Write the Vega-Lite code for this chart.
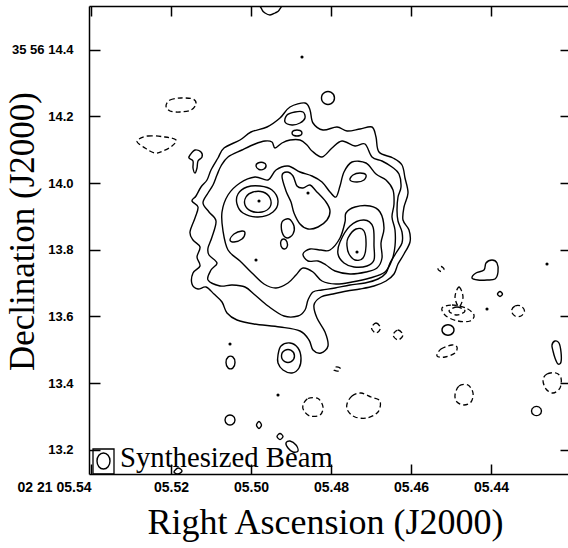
{
"$schema":"https://vega.github.io/schema/vega-lite/v6.json",
"width":479,"height":468,
"autosize":{"type":"none"},
"padding":{"left":89,"top":6,"right":0,"bottom":74},
"background":"white",
"config":{"view":{"stroke":null},"axis":{"grid":false}},
"datasets":{
"solid":[
{"c":1,"ra":5.49275,"dec":14.195},{"c":1,"ra":5.49025,"dec":14.228},{"c":1,"ra":5.4865,"dec":14.24},{"c":1,"ra":5.48525,"dec":14.219},{"c":1,"ra":5.4845,"dec":14.18},{"c":1,"ra":5.482,"dec":14.159},{"c":1,"ra":5.4785,"dec":14.168},{"c":1,"ra":5.476,"dec":14.156},{"c":1,"ra":5.47275,"dec":14.162},{"c":1,"ra":5.46975,"dec":14.168},{"c":1,"ra":5.46875,"dec":14.138},{"c":1,"ra":5.468,"dec":14.093},{"c":1,"ra":5.4645,"dec":14.075},{"c":1,"ra":5.46225,"dec":14.054},{"c":1,"ra":5.4615,"dec":14.015},{"c":1,"ra":5.46075,"dec":13.97},{"c":1,"ra":5.46175,"dec":13.928},{"c":1,"ra":5.462,"dec":13.889},{"c":1,"ra":5.4605,"dec":13.859},{"c":1,"ra":5.46025,"dec":13.823},{"c":1,"ra":5.46175,"dec":13.787},{"c":1,"ra":5.46325,"dec":13.757},{"c":1,"ra":5.46425,"dec":13.727},{"c":1,"ra":5.46625,"dec":13.706},{"c":1,"ra":5.46925,"dec":13.691},{"c":1,"ra":5.47275,"dec":13.682},{"c":1,"ra":5.476,"dec":13.676},{"c":1,"ra":5.4795,"dec":13.667},{"c":1,"ra":5.4825,"dec":13.658},{"c":1,"ra":5.48425,"dec":13.634},{"c":1,"ra":5.4835,"dec":13.595},{"c":1,"ra":5.4815,"dec":13.553},{"c":1,"ra":5.48075,"dec":13.511},{"c":1,"ra":5.4825,"dec":13.49},{"c":1,"ra":5.4845,"dec":13.499},{"c":1,"ra":5.4855,"dec":13.529},{"c":1,"ra":5.48775,"dec":13.556},{"c":1,"ra":5.49275,"dec":13.568},{"c":1,"ra":5.49925,"dec":13.577},{"c":1,"ra":5.5035,"dec":13.589},{"c":1,"ra":5.506,"dec":13.61},{"c":1,"ra":5.50725,"dec":13.643},{"c":1,"ra":5.50925,"dec":13.667},{"c":1,"ra":5.51125,"dec":13.688},{"c":1,"ra":5.51325,"dec":13.682},{"c":1,"ra":5.51475,"dec":13.697},{"c":1,"ra":5.5145,"dec":13.73},{"c":1,"ra":5.51275,"dec":13.751},{"c":1,"ra":5.5135,"dec":13.778},{"c":1,"ra":5.51275,"dec":13.808},{"c":1,"ra":5.5145,"dec":13.829},{"c":1,"ra":5.51525,"dec":13.853},{"c":1,"ra":5.514,"dec":13.895},{"c":1,"ra":5.51325,"dec":13.928},{"c":1,"ra":5.51475,"dec":13.946},{"c":1,"ra":5.51375,"dec":13.961},{"c":1,"ra":5.5125,"dec":13.988},{"c":1,"ra":5.511,"dec":14.009},{"c":1,"ra":5.51,"dec":14.039},{"c":1,"ra":5.50825,"dec":14.075},{"c":1,"ra":5.50675,"dec":14.105},{"c":1,"ra":5.50275,"dec":14.129},{"c":1,"ra":5.5,"dec":14.153},{"c":1,"ra":5.496,"dec":14.168},
{"c":2,"ra":5.50575,"dec":14.078},{"c":2,"ra":5.50225,"dec":14.099},{"c":2,"ra":5.499,"dec":14.117},{"c":2,"ra":5.4965,"dec":14.126},{"c":2,"ra":5.49475,"dec":14.123},{"c":2,"ra":5.494,"dec":14.105},{"c":2,"ra":5.49225,"dec":14.12},{"c":2,"ra":5.49025,"dec":14.129},{"c":2,"ra":5.48775,"dec":14.129},{"c":2,"ra":5.486,"dec":14.114},{"c":2,"ra":5.48475,"dec":14.096},{"c":2,"ra":5.48225,"dec":14.078},{"c":2,"ra":5.47975,"dec":14.105},{"c":2,"ra":5.47725,"dec":14.126},{"c":2,"ra":5.474,"dec":14.111},{"c":2,"ra":5.4715,"dec":14.117},{"c":2,"ra":5.46975,"dec":14.078},{"c":2,"ra":5.46725,"dec":14.066},{"c":2,"ra":5.46475,"dec":14.048},{"c":2,"ra":5.463,"dec":14.027},{"c":2,"ra":5.4625,"dec":13.988},{"c":2,"ra":5.46325,"dec":13.958},{"c":2,"ra":5.4635,"dec":13.919},{"c":2,"ra":5.46325,"dec":13.886},{"c":2,"ra":5.46225,"dec":13.853},{"c":2,"ra":5.46225,"dec":13.82},{"c":2,"ra":5.46375,"dec":13.79},{"c":2,"ra":5.46525,"dec":13.76},{"c":2,"ra":5.46625,"dec":13.73},{"c":2,"ra":5.46825,"dec":13.712},{"c":2,"ra":5.4715,"dec":13.7},{"c":2,"ra":5.47525,"dec":13.694},{"c":2,"ra":5.479,"dec":13.685},{"c":2,"ra":5.48225,"dec":13.679},{"c":2,"ra":5.4845,"dec":13.673},{"c":2,"ra":5.48575,"dec":13.649},{"c":2,"ra":5.4865,"dec":13.619},{"c":2,"ra":5.48825,"dec":13.601},{"c":2,"ra":5.49175,"dec":13.601},{"c":2,"ra":5.49575,"dec":13.631},{"c":2,"ra":5.499,"dec":13.664},{"c":2,"ra":5.5015,"dec":13.688},{"c":2,"ra":5.50475,"dec":13.694},{"c":2,"ra":5.50775,"dec":13.691},{"c":2,"ra":5.51075,"dec":13.709},{"c":2,"ra":5.51,"dec":13.739},{"c":2,"ra":5.5085,"dec":13.76},{"c":2,"ra":5.5105,"dec":13.784},{"c":2,"ra":5.51075,"dec":13.805},{"c":2,"ra":5.50975,"dec":13.838},{"c":2,"ra":5.50875,"dec":13.886},{"c":2,"ra":5.5105,"dec":13.913},{"c":2,"ra":5.512,"dec":13.94},{"c":2,"ra":5.51075,"dec":13.97},{"c":2,"ra":5.5095,"dec":13.994},{"c":2,"ra":5.5085,"dec":14.024},{"c":2,"ra":5.5075,"dec":14.051},
{"c":3,"ra":5.50725,"dec":13.913},{"c":3,"ra":5.50575,"dec":13.964},{"c":3,"ra":5.50275,"dec":14.0},{"c":3,"ra":5.499,"dec":14.018},{"c":3,"ra":5.49575,"dec":14.009},{"c":3,"ra":5.49375,"dec":14.039},{"c":3,"ra":5.49075,"dec":14.051},{"c":3,"ra":5.48775,"dec":14.033},{"c":3,"ra":5.48475,"dec":14.021},{"c":3,"ra":5.48225,"dec":14.003},{"c":3,"ra":5.48025,"dec":13.973},{"c":3,"ra":5.47875,"dec":13.958},{"c":3,"ra":5.47775,"dec":13.991},{"c":3,"ra":5.47675,"dec":14.033},{"c":3,"ra":5.47475,"dec":14.063},{"c":3,"ra":5.47125,"dec":14.06},{"c":3,"ra":5.46875,"dec":14.027},{"c":3,"ra":5.46625,"dec":14.009},{"c":3,"ra":5.4645,"dec":13.979},{"c":3,"ra":5.46425,"dec":13.937},{"c":3,"ra":5.46475,"dec":13.898},{"c":3,"ra":5.464,"dec":13.859},{"c":3,"ra":5.464,"dec":13.811},{"c":3,"ra":5.46475,"dec":13.769},{"c":3,"ra":5.4665,"dec":13.733},{"c":3,"ra":5.47025,"dec":13.715},{"c":3,"ra":5.47475,"dec":13.703},{"c":3,"ra":5.47875,"dec":13.697},{"c":3,"ra":5.48225,"dec":13.706},{"c":3,"ra":5.4845,"dec":13.733},{"c":3,"ra":5.487,"dec":13.745},{"c":3,"ra":5.48875,"dec":13.724},{"c":3,"ra":5.49075,"dec":13.7},{"c":3,"ra":5.49375,"dec":13.685},{"c":3,"ra":5.49675,"dec":13.697},{"c":3,"ra":5.49975,"dec":13.73},{"c":3,"ra":5.50275,"dec":13.766},{"c":3,"ra":5.50575,"dec":13.799},{"c":3,"ra":5.507,"dec":13.856},
{"c":4,"ra":5.50325,"dec":13.967},{"c":4,"ra":5.501,"dec":13.988},{"c":4,"ra":5.49775,"dec":13.991},{"c":4,"ra":5.49475,"dec":13.979},{"c":4,"ra":5.49325,"dec":13.946},{"c":4,"ra":5.4945,"dec":13.913},{"c":4,"ra":5.49825,"dec":13.898},{"c":4,"ra":5.502,"dec":13.91},{"c":4,"ra":5.5035,"dec":13.937},
{"c":5,"ra":5.50125,"dec":13.958},{"c":5,"ra":5.4995,"dec":13.973},{"c":5,"ra":5.497,"dec":13.973},{"c":5,"ra":5.49525,"dec":13.955},{"c":5,"ra":5.49525,"dec":13.928},{"c":5,"ra":5.49725,"dec":13.913},{"c":5,"ra":5.5,"dec":13.916},{"c":5,"ra":5.5015,"dec":13.934},
{"c":6,"ra":5.49225,"dec":14.021},{"c":6,"ra":5.491,"dec":14.033},{"c":6,"ra":5.4895,"dec":14.021},{"c":6,"ra":5.4885,"dec":13.991},{"c":6,"ra":5.487,"dec":13.985},{"c":6,"ra":5.48525,"dec":13.994},{"c":6,"ra":5.48375,"dec":13.976},{"c":6,"ra":5.48125,"dec":13.943},{"c":6,"ra":5.48025,"dec":13.916},{"c":6,"ra":5.481,"dec":13.889},{"c":6,"ra":5.48325,"dec":13.868},{"c":6,"ra":5.48575,"dec":13.862},{"c":6,"ra":5.48775,"dec":13.877},{"c":6,"ra":5.48925,"dec":13.91},{"c":6,"ra":5.49,"dec":13.943},{"c":6,"ra":5.49125,"dec":13.976},
{"c":7,"ra":5.49225,"dec":13.883},{"c":7,"ra":5.4905,"dec":13.892},{"c":7,"ra":5.48925,"dec":13.871},{"c":7,"ra":5.4895,"dec":13.847},{"c":7,"ra":5.491,"dec":13.835},{"c":7,"ra":5.49225,"dec":13.853},
{"c":8,"ra":5.49175,"dec":13.832},{"c":8,"ra":5.491,"dec":13.823},{"c":8,"ra":5.491,"dec":13.808},{"c":8,"ra":5.49175,"dec":13.802},{"c":8,"ra":5.4925,"dec":13.811},{"c":8,"ra":5.4925,"dec":13.826},
{"c":9,"ra":5.49875,"dec":14.051},{"c":9,"ra":5.49825,"dec":14.06},{"c":9,"ra":5.497,"dec":14.0615},{"c":9,"ra":5.49625,"dec":14.054},{"c":9,"ra":5.49675,"dec":14.042},{"c":9,"ra":5.498,"dec":14.0405},
{"c":10,"ra":5.50525,"dec":13.829},{"c":10,"ra":5.50425,"dec":13.847},{"c":10,"ra":5.50225,"dec":13.856},{"c":10,"ra":5.5015,"dec":13.85},{"c":10,"ra":5.50225,"dec":13.832},{"c":10,"ra":5.50425,"dec":13.823},
{"c":11,"ra":5.4915,"dec":14.183},{"c":11,"ra":5.491,"dec":14.204},{"c":11,"ra":5.489,"dec":14.213},{"c":11,"ra":5.487,"dec":14.213},{"c":11,"ra":5.4865,"dec":14.195},{"c":11,"ra":5.48775,"dec":14.18},{"c":11,"ra":5.48975,"dec":14.174},
{"c":12,"ra":5.48975,"dec":14.15},{"c":12,"ra":5.48925,"dec":14.1575},{"c":12,"ra":5.48775,"dec":14.1575},{"c":12,"ra":5.48725,"dec":14.15},{"c":12,"ra":5.48775,"dec":14.1425},{"c":12,"ra":5.48925,"dec":14.1425},
{"c":13,"ra":5.48238,"dec":14.255},{"c":13,"ra":5.48156,"dec":14.2718},{"c":13,"ra":5.47994,"dec":14.2718},{"c":13,"ra":5.47913,"dec":14.255},{"c":13,"ra":5.47994,"dec":14.2382},{"c":13,"ra":5.48156,"dec":14.2382},
{"c":14,"ra":5.47525,"dec":14.009},{"c":14,"ra":5.4745,"dec":14.024},{"c":14,"ra":5.47275,"dec":14.03},{"c":14,"ra":5.47125,"dec":14.024},{"c":14,"ra":5.47175,"dec":14.009},{"c":14,"ra":5.4735,"dec":14.003},
{"c":15,"ra":5.48025,"dec":13.799},{"c":15,"ra":5.47775,"dec":13.835},{"c":15,"ra":5.4765,"dec":13.883},{"c":15,"ra":5.47625,"dec":13.91},{"c":15,"ra":5.474,"dec":13.928},{"c":15,"ra":5.47025,"dec":13.931},{"c":15,"ra":5.46775,"dec":13.913},{"c":15,"ra":5.46675,"dec":13.865},{"c":15,"ra":5.4675,"dec":13.82},{"c":15,"ra":5.46725,"dec":13.775},{"c":15,"ra":5.4685,"dec":13.745},{"c":15,"ra":5.47125,"dec":13.733},{"c":15,"ra":5.47525,"dec":13.727},{"c":15,"ra":5.479,"dec":13.736},{"c":15,"ra":5.48125,"dec":13.754},{"c":15,"ra":5.48325,"dec":13.766},{"c":15,"ra":5.48575,"dec":13.766},{"c":15,"ra":5.487,"dec":13.787},{"c":15,"ra":5.48525,"dec":13.802},{"c":15,"ra":5.4825,"dec":13.799},
{"c":16,"ra":5.47775,"dec":13.823},{"c":16,"ra":5.47525,"dec":13.871},{"c":16,"ra":5.47175,"dec":13.889},{"c":16,"ra":5.4695,"dec":13.868},{"c":16,"ra":5.46925,"dec":13.811},{"c":16,"ra":5.46925,"dec":13.769},{"c":16,"ra":5.471,"dec":13.751},{"c":16,"ra":5.47425,"dec":13.748},{"c":16,"ra":5.47675,"dec":13.76},{"c":16,"ra":5.47825,"dec":13.787},
{"c":17,"ra":5.47575,"dec":13.835},{"c":17,"ra":5.47375,"dec":13.862},{"c":17,"ra":5.47175,"dec":13.856},{"c":17,"ra":5.47125,"dec":13.811},{"c":17,"ra":5.472,"dec":13.775},{"c":17,"ra":5.474,"dec":13.769},{"c":17,"ra":5.4755,"dec":13.787},{"c":17,"ra":5.476,"dec":13.811},
{"c":18,"ra":5.51525,"dec":14.084},{"c":18,"ra":5.514,"dec":14.099},{"c":18,"ra":5.5125,"dec":14.093},{"c":18,"ra":5.51225,"dec":14.078},{"c":18,"ra":5.51325,"dec":14.066},{"c":18,"ra":5.5135,"dec":14.045},{"c":18,"ra":5.514,"dec":14.03},{"c":18,"ra":5.5145,"dec":14.045},{"c":18,"ra":5.5145,"dec":14.066},{"c":18,"ra":5.5155,"dec":14.075},
{"c":22,"ra":5.49325,"dec":13.484},{"c":22,"ra":5.4925,"dec":13.511},{"c":22,"ra":5.49025,"dec":13.52},{"c":22,"ra":5.48825,"dec":13.505},{"c":22,"ra":5.4875,"dec":13.475},{"c":22,"ra":5.488,"dec":13.445},{"c":22,"ra":5.48975,"dec":13.43},{"c":22,"ra":5.492,"dec":13.439},{"c":22,"ra":5.49325,"dec":13.46},
{"c":23,"ra":5.49238,"dec":13.481},{"c":23,"ra":5.49156,"dec":13.4978},{"c":23,"ra":5.48994,"dec":13.4978},{"c":23,"ra":5.48913,"dec":13.481},{"c":23,"ra":5.48994,"dec":13.4642},{"c":23,"ra":5.49156,"dec":13.4642},
{"c":24,"ra":5.50625,"dec":13.4615},{"c":24,"ra":5.50569,"dec":13.4783},{"c":24,"ra":5.50456,"dec":13.4783},{"c":24,"ra":5.504,"dec":13.4615},{"c":24,"ra":5.50456,"dec":13.4447},{"c":24,"ra":5.50569,"dec":13.4447},
{"c":25,"ra":5.5065,"dec":13.289},{"c":25,"ra":5.50588,"dec":13.3019},{"c":25,"ra":5.50463,"dec":13.3019},{"c":25,"ra":5.504,"dec":13.289},{"c":25,"ra":5.50463,"dec":13.2761},{"c":25,"ra":5.50588,"dec":13.2761},
{"c":26,"ra":5.49863,"dec":13.274},{"c":26,"ra":5.498,"dec":13.2845},{"c":26,"ra":5.49738,"dec":13.274},{"c":26,"ra":5.498,"dec":13.2635},
{"c":27,"ra":5.4935,"dec":13.2395},{"c":27,"ra":5.49275,"dec":13.2485},{"c":27,"ra":5.492,"dec":13.2395},{"c":27,"ra":5.49275,"dec":13.2305},
{"c":28,"ra":5.49125,"dec":13.22},{"c":28,"ra":5.49025,"dec":13.226},{"c":28,"ra":5.48875,"dec":13.214},{"c":28,"ra":5.48825,"dec":13.196},{"c":28,"ra":5.4895,"dec":13.193},{"c":28,"ra":5.49075,"dec":13.205},
{"c":35,"ra":5.44475,"dec":13.715},{"c":35,"ra":5.44375,"dec":13.73},{"c":35,"ra":5.44175,"dec":13.739},{"c":35,"ra":5.44125,"dec":13.76},{"c":35,"ra":5.43975,"dec":13.769},{"c":35,"ra":5.4385,"dec":13.76},{"c":35,"ra":5.43825,"dec":13.733},{"c":35,"ra":5.439,"dec":13.712},{"c":35,"ra":5.441,"dec":13.709},{"c":35,"ra":5.44325,"dec":13.709},
{"c":36,"ra":5.43838,"dec":13.667},{"c":36,"ra":5.43775,"dec":13.6745},{"c":36,"ra":5.43713,"dec":13.667},{"c":36,"ra":5.43775,"dec":13.6595},
{"c":40,"ra":5.45225,"dec":13.559},{"c":40,"ra":5.4515,"dec":13.5725},{"c":40,"ra":5.45,"dec":13.5725},{"c":40,"ra":5.44925,"dec":13.559},{"c":40,"ra":5.45,"dec":13.5455},{"c":40,"ra":5.4515,"dec":13.5455},
{"c":43,"ra":5.42475,"dec":13.514},{"c":43,"ra":5.424,"dec":13.526},{"c":43,"ra":5.423,"dec":13.52},{"c":43,"ra":5.4225,"dec":13.493},{"c":43,"ra":5.4225,"dec":13.463},{"c":43,"ra":5.42325,"dec":13.457},{"c":43,"ra":5.424,"dec":13.475},{"c":43,"ra":5.4245,"dec":13.496},
{"c":46,"ra":5.42988,"dec":13.316},{"c":46,"ra":5.42925,"dec":13.328},{"c":46,"ra":5.428,"dec":13.328},{"c":46,"ra":5.42738,"dec":13.316},{"c":46,"ra":5.428,"dec":13.304},{"c":46,"ra":5.42925,"dec":13.304},
{"c":47,"ra":5.4975,"dec":14.54},{"c":47,"ra":5.49725,"dec":14.52},{"c":47,"ra":5.4965,"dec":14.51},{"c":47,"ra":5.49525,"dec":14.504},{"c":47,"ra":5.494,"dec":14.51},{"c":47,"ra":5.493,"dec":14.518},{"c":47,"ra":5.4925,"dec":14.54},
{"c":48,"ra":5.51925,"dec":13.133},{"c":48,"ra":5.51825,"dec":13.145},{"c":48,"ra":5.51725,"dec":13.136},{"c":48,"ra":5.51825,"dec":13.127},
{"c":49,"ra":5.53525,"dec":13.166},{"c":49,"ra":5.53573,"dec":13.1831},{"c":49,"ra":5.53688,"dec":13.19},{"c":49,"ra":5.53803,"dec":13.1831},{"c":49,"ra":5.5385,"dec":13.166},{"c":49,"ra":5.53803,"dec":13.1489},{"c":49,"ra":5.53688,"dec":13.142},{"c":49,"ra":5.53573,"dec":13.1489}
],
"dashed":[
{"c":19,"ra":5.52125,"dec":14.231},{"c":19,"ra":5.52025,"dec":14.249},{"c":19,"ra":5.5175,"dec":14.255},{"c":19,"ra":5.5145,"dec":14.252},{"c":19,"ra":5.51375,"dec":14.237},{"c":19,"ra":5.515,"dec":14.219},{"c":19,"ra":5.51775,"dec":14.213},{"c":19,"ra":5.52025,"dec":14.216},
{"c":20,"ra":5.5285,"dec":14.126},{"c":20,"ra":5.52575,"dec":14.141},{"c":20,"ra":5.5215,"dec":14.138},{"c":20,"ra":5.51875,"dec":14.129},{"c":20,"ra":5.51975,"dec":14.111},{"c":20,"ra":5.522,"dec":14.096},{"c":20,"ra":5.524,"dec":14.09},{"c":20,"ra":5.5265,"dec":14.105},
{"c":29,"ra":5.487,"dec":13.334},{"c":29,"ra":5.48575,"dec":13.3535},{"c":29,"ra":5.48325,"dec":13.3535},{"c":29,"ra":5.482,"dec":13.328},{"c":29,"ra":5.48275,"dec":13.304},{"c":29,"ra":5.48525,"dec":13.301},{"c":29,"ra":5.48675,"dec":13.316},
{"c":30,"ra":5.476,"dec":13.337},{"c":30,"ra":5.47475,"dec":13.361},{"c":30,"ra":5.4725,"dec":13.37},{"c":30,"ra":5.47,"dec":13.358},{"c":30,"ra":5.46775,"dec":13.346},{"c":30,"ra":5.46825,"dec":13.313},{"c":30,"ra":5.471,"dec":13.295},{"c":30,"ra":5.474,"dec":13.298},{"c":30,"ra":5.47575,"dec":13.316},
{"c":31,"ra":5.47925,"dec":13.439},{"c":31,"ra":5.47875,"dec":13.448},{"c":31,"ra":5.47775,"dec":13.445},{"c":31,"ra":5.478,"dec":13.436},
{"c":32,"ra":5.46988,"dec":13.565},{"c":32,"ra":5.46875,"dec":13.58},{"c":32,"ra":5.46763,"dec":13.565},{"c":32,"ra":5.46875,"dec":13.55},
{"c":33,"ra":5.4645,"dec":13.544},{"c":33,"ra":5.46325,"dec":13.559},{"c":33,"ra":5.462,"dec":13.544},{"c":33,"ra":5.46325,"dec":13.529},
{"c":34,"ra":5.45325,"dec":13.742},{"c":34,"ra":5.4525,"dec":13.7495},{"c":34,"ra":5.45175,"dec":13.742},{"c":34,"ra":5.4525,"dec":13.7345},
{"c":37,"ra":5.449,"dec":13.658},{"c":37,"ra":5.448,"dec":13.688},{"c":37,"ra":5.447,"dec":13.658},{"c":37,"ra":5.448,"dec":13.628},
{"c":38,"ra":5.45225,"dec":13.625},{"c":38,"ra":5.44975,"dec":13.634},{"c":38,"ra":5.44625,"dec":13.625},{"c":38,"ra":5.44425,"dec":13.604},{"c":38,"ra":5.44525,"dec":13.586},{"c":38,"ra":5.44825,"dec":13.586},{"c":38,"ra":5.45125,"dec":13.601},
{"c":39,"ra":5.4505,"dec":13.616},{"c":39,"ra":5.4485,"dec":13.628},{"c":39,"ra":5.4465,"dec":13.616},{"c":39,"ra":5.4485,"dec":13.604},
{"c":41,"ra":5.43488,"dec":13.616},{"c":41,"ra":5.434,"dec":13.631},{"c":41,"ra":5.4325,"dec":13.631},{"c":41,"ra":5.43163,"dec":13.616},{"c":41,"ra":5.4325,"dec":13.601},{"c":41,"ra":5.434,"dec":13.601},
{"c":42,"ra":5.4535,"dec":13.481},{"c":42,"ra":5.4525,"dec":13.502},{"c":42,"ra":5.44975,"dec":13.514},{"c":42,"ra":5.4485,"dec":13.508},{"c":42,"ra":5.449,"dec":13.49},{"c":42,"ra":5.4515,"dec":13.478},
{"c":44,"ra":5.427,"dec":13.409},{"c":44,"ra":5.426,"dec":13.427},{"c":44,"ra":5.42375,"dec":13.43},{"c":44,"ra":5.4225,"dec":13.415},{"c":44,"ra":5.42275,"dec":13.385},{"c":44,"ra":5.4245,"dec":13.37},{"c":44,"ra":5.42625,"dec":13.382},
{"c":45,"ra":5.449,"dec":13.364},{"c":45,"ra":5.448,"dec":13.391},{"c":45,"ra":5.44575,"dec":13.394},{"c":45,"ra":5.4445,"dec":13.37},{"c":45,"ra":5.445,"dec":13.343},{"c":45,"ra":5.44675,"dec":13.334},{"c":45,"ra":5.4485,"dec":13.343}
],
"dots":[
{"ra":5.498,"dec":13.946},{"ra":5.48575,"dec":13.97},{"ra":5.4735,"dec":13.793},{"ra":5.49875,"dec":13.769},{"ra":5.50525,"dec":13.517},{"ra":5.49325,"dec":13.364},{"ra":5.48725,"dec":14.378},{"ra":5.441,"dec":13.622},{"ra":5.426,"dec":13.757}
],
"box":[{"ra1":5.5395,"ra2":5.53425,"dec1":13.202,"dec2":13.127}],
"label":[{"ra":5.53275,"dec":13.148,"text":"Synthesized Beam"}]
},
"layer":[
{"data":{"name":"solid"},
 "mark":{"type":"line","interpolate":"cardinal-closed","stroke":"black","strokeWidth":1.4,"clip":true},
 "encoding":{
  "x":{"field":"ra","type":"quantitative","scale":{"domain":[5.42075,5.5405],"reverse":true,"zero":false,"nice":false},
   "axis":{"orient":"bottom","values":[5.54,5.52,5.5,5.48,5.46,5.44],"labelExpr":"datum.value > 5.535 ? '02 21 05.54' : '0' + format(datum.value, '.2f')","tickSize":-10,"tickWidth":1.5,"tickColor":"black","domainColor":"black","domainWidth":1.5,"labelPadding":16,"labelFont":"Liberation Sans","labelFontWeight":"bold","labelFontSize":14,"labelColor":"black","labelAlign":{"condition":{"test":"datum.value > 5.535","value":"right"},"value":"center"},"labelBaseline":"top","labelFlush":false,"labelOverlap":false,"labelBound":false,"title":"Right Ascension (J2000)","titleFont":"Liberation Serif","titleFontSize":36,"titleFontWeight":"normal","titleColor":"black","titleX":236,"titleY":59,"titleBaseline":"alphabetic","titleAlign":"center"}},
  "y":{"field":"dec","type":"quantitative","scale":{"domain":[13.127,14.531],"zero":false,"nice":false},
   "axis":{"orient":"left","values":[13.2,13.4,13.6,13.8,14.0,14.2,14.4],"labelExpr":"datum.value > 14.35 ? '35 56 14.4' : format(datum.value, '.1f')","tickSize":-11,"tickWidth":1.5,"tickColor":"black","domainColor":"black","domainWidth":1.5,"labelPadding":27,"labelFont":"Liberation Sans","labelFontWeight":"bold","labelFontSize":13,"labelColor":"black","labelAlign":"right","labelBaseline":"middle","labelFlush":false,"labelOverlap":false,"labelBound":false,"title":"Declination (J2000)","titleFont":"Liberation Serif","titleFontSize":35,"titleFontWeight":"normal","titleColor":"black","titleX":-56,"titleY":225,"titleAngle":-90,"titleBaseline":"alphabetic","titleAlign":"center"}},
  "detail":{"field":"c","type":"nominal"},
  "order":{"value":null}
 }},
{"data":{"name":"dashed"},
 "mark":{"type":"line","interpolate":"cardinal-closed","stroke":"black","strokeWidth":1.3,"strokeDash":[5,3],"clip":true},
 "encoding":{
  "x":{"field":"ra","type":"quantitative","scale":{"domain":[5.42075,5.5405],"reverse":true,"zero":false,"nice":false},
   "axis":{"orient":"top","values":[5.54,5.52,5.5,5.48,5.46,5.44],"labels":false,"tickSize":-10,"tickWidth":1.5,"tickColor":"black","domainColor":"black","domainWidth":1.5,"title":null}},
  "y":{"field":"dec","type":"quantitative","scale":{"domain":[13.127,14.531],"zero":false,"nice":false},
   "axis":{"orient":"right","values":[13.2,13.4,13.6,13.8,14.0,14.2,14.4],"labels":false,"tickSize":-8,"tickWidth":1.5,"tickColor":"black","domain":false,"title":null}},
  "detail":{"field":"c","type":"nominal"},
  "order":{"value":null}
 }},
{"data":{"name":"dots"},
 "mark":{"type":"point","filled":true,"color":"black","size":10,"opacity":1},
 "encoding":{
  "x":{"field":"ra","type":"quantitative","scale":{"domain":[5.42075,5.5405],"reverse":true,"zero":false,"nice":false},"axis":null},
  "y":{"field":"dec","type":"quantitative","scale":{"domain":[13.127,14.531],"zero":false,"nice":false},"axis":null}
 }},
{"data":{"name":"box"},
 "mark":{"type":"rect","fill":null,"fillOpacity":0,"stroke":"black","strokeWidth":1.3},
 "encoding":{
  "x":{"field":"ra1","type":"quantitative","scale":{"domain":[5.42075,5.5405],"reverse":true,"zero":false,"nice":false},"axis":null},
  "x2":{"field":"ra2"},
  "y":{"field":"dec1","type":"quantitative","scale":{"domain":[13.127,14.531],"zero":false,"nice":false},"axis":null},
  "y2":{"field":"dec2"}
 }},
{"data":{"name":"label"},
 "mark":{"type":"text","align":"left","baseline":"alphabetic","font":"Liberation Serif","fontSize":28.7,"color":"black"},
 "encoding":{
  "x":{"field":"ra","type":"quantitative","scale":{"domain":[5.42075,5.5405],"reverse":true,"zero":false,"nice":false},"axis":null},
  "y":{"field":"dec","type":"quantitative","scale":{"domain":[13.127,14.531],"zero":false,"nice":false},"axis":null},
  "text":{"field":"text"}
 }}
],
"resolve":{"axis":{"x":"independent","y":"independent"}}
}
